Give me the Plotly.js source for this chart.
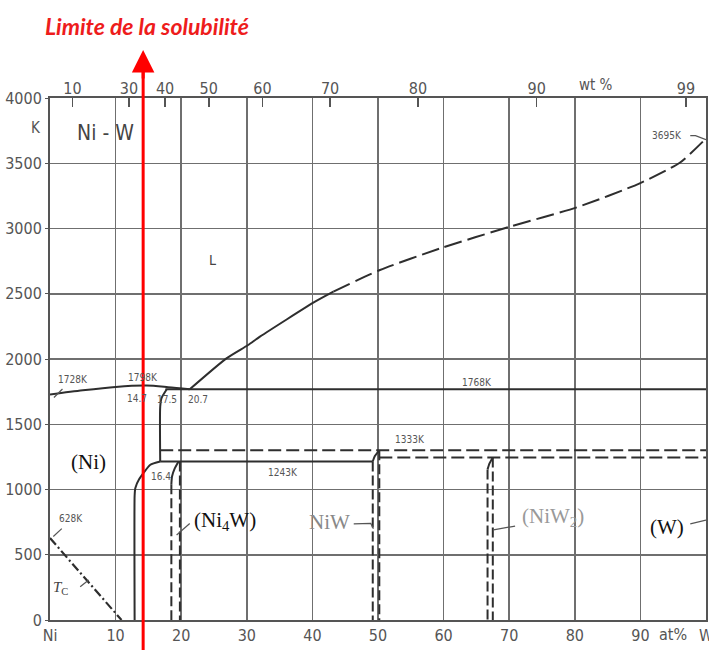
<!DOCTYPE html>
<html>
<head>
<meta charset="utf-8">
<script src="https://cdn.plot.ly/plotly-3.0.1.min.js"></script>
<style>html,body{margin:0;padding:0;background:#fff;}#chart{width:709px;height:650px;}</style>
</head>
<body>
<div id="chart"></div>
<script>
// ---- data (x = at% W, y = temperature K) ----
const bottomTickVals = [0,10,20,30,40,50,60,70,80,90,100];
const bottomTickText = ['Ni','10','20','30','40','50','60','70','80','90','W'];
const yTickVals = [0,500,1000,1500,2000,2500,3000,3500,4000];
const wtTickLabels = [10,30,40,50,60,70,80,90,99];
const massNi = 58.69, massW = 183.84;

const liqLeftX = [0,5,10,14.7,18,21.3];
const liqLeftY = [1728,1760,1786,1796,1784,1768];
const liqMidX = [21.3,26.9,30.2,32,40.4,43.2];
const liqMidY = [1768,2005,2107,2171,2439,2516];
const liqDashX = [43.2,50.3,59.5,70.1,80.3,89.9,96,100];
const liqDashY = [2516,2682,2848,3014,3162,3346,3504,3690];

const periX = [17.6,100];
const periY = [1768,1768];
const niSolvusUpX = [17.8,17.0,16.8,16.8];
const niSolvusUpY = [1768,1700,1634,1215];
const niSolvusLowX = [16.8,15.3,13.6,13.0,12.9,12.9];
const niSolvusLowY = [1215,1190,1080,1010,950,0];
const eutX = [16.8,49.2];
const eutY = [1215,1215];
const dashUpX = [16.8,100];
const dashUpY = [1300,1300];
const dashLowX = [50.2,100];
const dashLowY = [1246,1246];

const ni4wCurveX = [19.6,19.0,18.6,18.5];
const ni4wCurveY = [1215,1160,1100,1040];
const ni4wLeftX = [18.5,18.5];
const ni4wLeftY = [1040,0];
const ni4wRightX = [19.8,19.8];
const ni4wRightY = [1215,0];

const niwCurveX = [49.2,49.5,50.2];
const niwCurveY = [1215,1255,1300];
const niwLeftX = [49.2,49.2];
const niwLeftY = [1215,0];
const niwRightX = [50.2,50.2];
const niwRightY = [1300,0];

const niw2CurveX = [67.5,67.0,66.7];
const niw2CurveY = [1246,1200,1154];
const niw2LeftX = [66.7,66.7];
const niw2LeftY = [1154,0];
const niw2RightX = [67.5,67.5];
const niw2RightY = [1246,0];

const tcX = [0,10.9];
const tcY = [628,0];

// leader lines
const lead1728X = [0.6,1.9], lead1728Y = [1705,1770];
const lead3695X = [97.6,98.4,100], lead3695Y = [3712,3712,3680];
const lead628X = [0.5,1.8], lead628Y = [640,700];
const leadTcX = [4.6,5.9], leadTcY = [255,306];
const leadNi4wX = [19.3,21.3], leadNi4wY = [651,740];
const leadNiwX = [46.3,48.9,49.3], leadNiwY = [736,740,700];
const leadNiw2X = [67.6,70.9], leadNiw2Y = [690,720];
const leadWX = [97.6,100], leadWY = [736,766];

const solubilityLimitX = 14.2;

// ---- helpers ----
function wtToAt(w){ const a = w/massW, b = (100-w)/massNi; return 100*a/(a+b); }
const wtTickPos = wtTickLabels.map(wtToAt);

const DARK = '#2e2e2e';
function ln(x,y,opt){
  opt = opt||{};
  return {x:x, y:y, type:'scatter', mode:'lines', hoverinfo:'skip', showlegend:false,
    line:{color:opt.color||DARK, width:opt.width||2, dash:opt.dash||'solid', shape:opt.shape||'linear', smoothing:opt.smoothing||1}};
}
const VD = '10px,4px';
const traces = [
  ln(liqLeftX, liqLeftY, {shape:'spline', smoothing:0.8}),
  ln(liqMidX, liqMidY, {shape:'spline', smoothing:0.6}),
  ln(liqDashX, liqDashY, {shape:'spline', smoothing:0.6, dash:'18px,6px'}),
  ln(periX, periY),
  ln(niSolvusUpX, niSolvusUpY, {shape:'spline', smoothing:0.6}),
  ln(niSolvusLowX, niSolvusLowY, {shape:'spline', smoothing:0.5}),
  ln(eutX, eutY),
  ln(dashUpX, dashUpY, {dash:'13px,5px'}),
  ln(dashLowX, dashLowY, {dash:'13px,5px'}),
  ln(ni4wCurveX, ni4wCurveY, {shape:'spline', smoothing:0.6}),
  ln(ni4wLeftX, ni4wLeftY, {dash:VD}),
  ln(ni4wRightX, ni4wRightY, {dash:VD}),
  ln(niwCurveX, niwCurveY, {shape:'spline', smoothing:0.6}),
  ln(niwLeftX, niwLeftY, {dash:VD}),
  ln(niwRightX, niwRightY, {dash:VD}),
  ln(niw2CurveX, niw2CurveY, {shape:'spline', smoothing:0.6}),
  ln(niw2LeftX, niw2LeftY, {dash:VD}),
  ln(niw2RightX, niw2RightY, {dash:VD}),
  ln(tcX, tcY, {dash:'9px,3px,2px,3px', width:2.2}),
  ln(lead1728X, lead1728Y, {width:1.2, color:'#555'}),
  ln(lead3695X, lead3695Y, {width:1.2, color:'#555'}),
  ln(lead628X, lead628Y, {width:1.2, color:'#555'}),
  ln(leadTcX, leadTcY, {width:1.2, color:'#555'}),
  ln(leadNi4wX, leadNi4wY, {width:1.2, color:'#555'}),
  ln(leadNiwX, leadNiwY, {width:1.2, color:'#555'}),
  ln(leadNiw2X, leadNiw2Y, {width:1.2, color:'#555'}),
  ln(leadWX, leadWY, {width:1.2, color:'#555'}),
  {x:[0], y:[0], xaxis:'x2', type:'scatter', mode:'markers', marker:{opacity:0}, hoverinfo:'skip', showlegend:false}
];

const TF = 'DejaVu Sans Condensed, Liberation Sans Narrow, Roboto Condensed, Liberation Sans, sans-serif';
const GRID = '#6f6f6f';
const small = {family:TF, size:10, color:'#555'};
const serif = 'Liberation Serif, DejaVu Serif, serif';
function txt(x,y,text,font,extra){
  return Object.assign({x:x, y:y, xref:'x', yref:'y', text:text, showarrow:false, font:font, xanchor:'center', yanchor:'middle'}, extra||{});
}
const annotations = [
  txt(8.5,3732,'Ni - W',{family:TF, size:21, color:'#444'}),
  txt(24.7,2759,'L',{family:TF, size:14, color:'#444'}),
  txt(3.5,1842,'1728K',small),
  txt(14.2,1856,'1798K',small),
  txt(13.3,1700,'14.7',small),
  txt(17.9,1686,'17.5',small),
  txt(22.5,1686,'20.7',small),
  txt(65.1,1818,'1768K',small),
  txt(54.9,1382,'1333K',small),
  txt(35.5,1132,'1243K',small),
  txt(16.9,1100,'16.4',small),
  txt(3.2,776,'628K',small),
  txt(94.0,3716,'3695K',small),
  txt(1.6,245,'<i>T</i><sub>C</sub>',{family:serif, size:15, color:'#444'}),
  txt(5.8,1211,'(Ni)',{family:serif, size:21, color:'#111'}),
  txt(26.6,757,'(Ni<sub>4</sub>W)',{family:serif, size:21, color:'#111'}),
  txt(42.6,750,'NiW',{family:serif, size:21, color:'#888'}),
  txt(76.6,790,'(NiW<sub>2</sub>)',{family:serif, size:21, color:'#999'}),
  txt(94.0,713,'(W)',{family:serif, size:21, color:'#111'}),
  {x:94.9, y:0, xref:'x', yref:'paper', text:'at%', showarrow:false, xanchor:'center', yanchor:'top', yshift:-3, font:{family:TF, size:16, color:'#555'}},
  {x:83.2, y:1, xref:'x', yref:'paper', text:'wt %', showarrow:false, xanchor:'center', yanchor:'bottom', yshift:2, font:{family:TF, size:15, color:'#555'}},
  {x:-0.021, y:3770, xref:'paper', yref:'y', text:'K', showarrow:false, xanchor:'center', yanchor:'middle', font:{family:TF, size:15, color:'#555'}},
  {x:0.148, y:1.137, xref:'paper', yref:'paper', text:'Limite de la solubilité', showarrow:false, xanchor:'center', yanchor:'middle',
    font:{family:'Lato, Open Sans, sans-serif', size:23, color:'#ee1c1c', weight:'bold', style:'italic'}},
  {x:solubilityLimitX, y:1.092, xref:'x', yref:'paper', text:'', showarrow:true, ax:0, ay:30,
    arrowhead:2, arrowsize:1.5, arrowwidth:3, arrowcolor:'#ff0000', standoff:0}
];

const shapes = [
  {type:'line', xref:'x', yref:'paper', x0:solubilityLimitX, x1:solubilityLimitX, y0:-0.06, y1:1.06,
    line:{color:'#ff0000', width:3}}
];

const layout = {
  width:709, height:650,
  margin:{l:50, r:3, t:98, b:30},
  paper_bgcolor:'#fff', plot_bgcolor:'#fff',
  showlegend:false,
  xaxis:{range:[0,100], tickvals:bottomTickVals, ticktext:bottomTickText, showgrid:true, gridcolor:GRID, gridwidth:1.5,
    showline:true, linecolor:'#555', linewidth:2, mirror:true, ticks:'', zeroline:false, ticklabeloverflow:'allow',
    tickfont:{family:TF, size:16, color:'#555'}, fixedrange:true},
  xaxis2:{range:[0,100], overlaying:'x', side:'top', anchor:'y', tickvals:wtTickPos, ticktext:wtTickLabels.map(String),
    ticks:'inside', ticklen:9, tickwidth:1.5, tickcolor:'#555', showgrid:false, zeroline:false, showline:false,
    tickfont:{family:TF, size:16, color:'#555'}, fixedrange:true},
  yaxis:{range:[0,4000], tickvals:yTickVals, showgrid:true, gridcolor:GRID, gridwidth:1.5,
    showline:true, linecolor:'#555', linewidth:2, mirror:true, ticks:'outside', ticklen:3, tickcolor:'#555', zeroline:false,
    tickfont:{family:TF, size:16, color:'#555'}, fixedrange:true},
  annotations:annotations,
  shapes:shapes
};

Plotly.newPlot('chart', traces, layout, {displayModeBar:false, staticPlot:true});
</script>
</body>
</html>
